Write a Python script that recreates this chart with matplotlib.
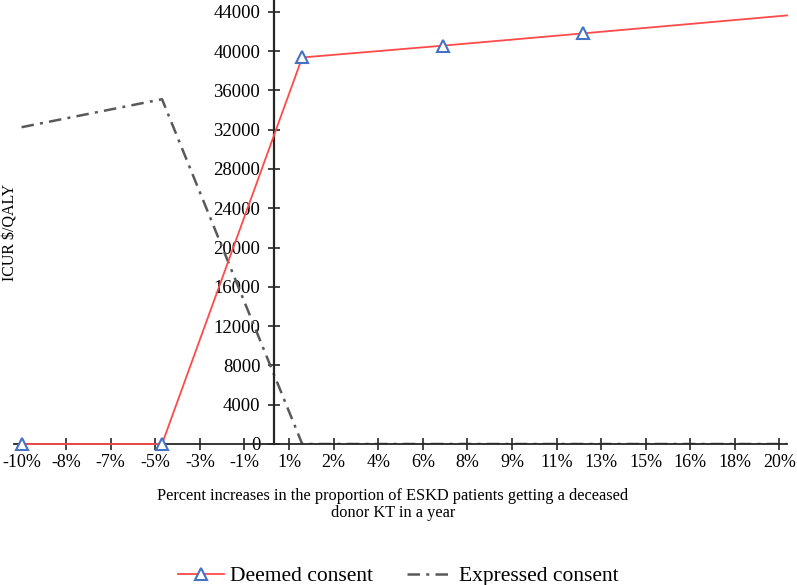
import numpy as np
import matplotlib.pyplot as plt

plt.rcParams['font.family'] = ['Liberation Serif', 'DejaVu Serif']

# Data (x in %, y in $/QALY)
deemed_x = [-10, -4.44, 1.11, 6.67, 12.22, 20.3]
deemed_y = [0, 0, 39350, 40550, 41800, 43630]

expressed_x = [-10, -4.44, 1.11, 20.3]
expressed_y = [32250, 35100, 0, 0]

tick_labels = ['-10%', '-8%', '-7%', '-5%', '-3%', '-1%', '1%', '2%', '4%',
               '6%', '8%', '9%', '11%', '13%', '15%', '16%', '18%', '20%']
y_ticks = np.arange(0, 44001, 4000)

fig = plt.figure(figsize=(7.97, 5.85), dpi=100)
ax = fig.add_axes([14/797, 141/585, 773/797, 444/585])

ax.plot(deemed_x, deemed_y, color='#ff4a4a', lw=1.3, marker='^', markersize=8,
        markerfacecolor='white', markeredgecolor='#4472c4', markeredgewidth=1.5,
        markevery=[0, 1, 2, 3, 4], label='Deemed consent', zorder=3, clip_on=False)
ax.plot(expressed_x, expressed_y, color='#595959', lw=1.8,
        linestyle=(0, (5, 2.5, 1.2, 2.5)), label='Expressed consent', zorder=2)

ax.set_xlim(-10.3, 20.3)
ax.set_ylim(0, 45200)
ax.set_xticks(np.linspace(-10, 20, len(tick_labels)))
ax.set_xticklabels(tick_labels)
ax.set_yticks(y_ticks)
ax.set_yticklabels([str(v) for v in y_ticks])

for s in ['top', 'right']:
    ax.spines[s].set_visible(False)
ax.spines['left'].set_position(('data', 0))
ax.spines['left'].set_linewidth(1.6)
ax.spines['left'].set_color('#262626')
ax.spines['bottom'].set_linewidth(1.3)
ax.spines['bottom'].set_color('#262626')
ax.tick_params(axis='both', direction='inout', length=8, width=1.2,
               colors='#262626', labelcolor='black')
ax.tick_params(axis='y', pad=6, labelsize=13.5)
ax.tick_params(axis='x', pad=3, labelsize=13)
ax.set_facecolor('none')

fig.text(0.493, 0.137, 'Percent increases in the proportion of ESKD patients getting a deceased\ndonor KT in a year',
         ha='center', va='center', fontsize=11.8, linespacing=1.1)
fig.text(0.013, 0.603, 'ICUR $/QALY', rotation=90, ha='center', va='center', fontsize=11.5)

fig.legend(loc='lower center', bbox_to_anchor=(0.5, -0.035), ncol=2, frameon=False,
           fontsize=15.5, handlelength=2.1, handletextpad=0.3, columnspacing=1.6,
           numpoints=1)

fig.savefig('out.png', dpi=100)
